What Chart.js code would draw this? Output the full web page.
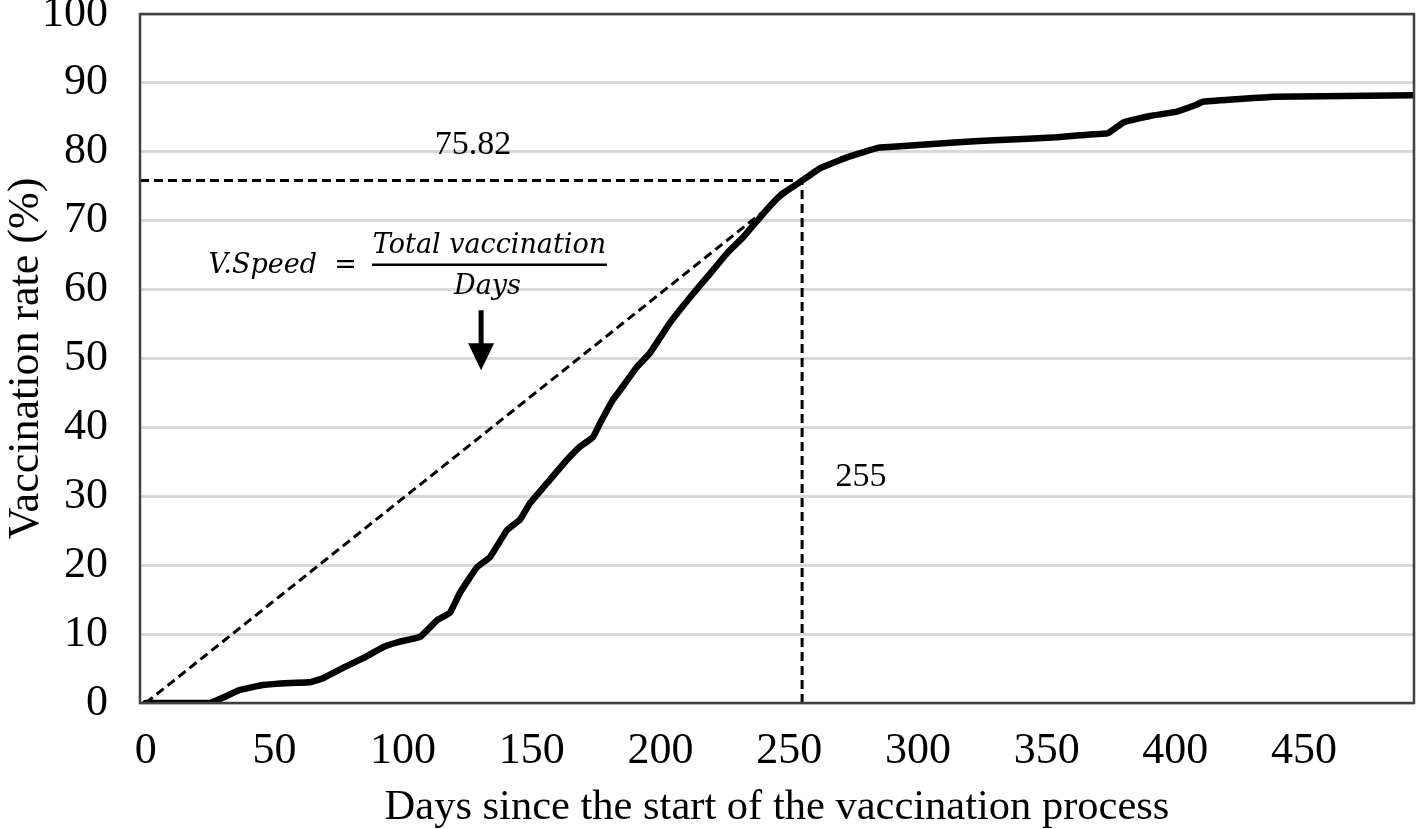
<!DOCTYPE html>
<html>
<head>
<meta charset="utf-8">
<script src="https://cdn.jsdelivr.net/npm/chart.js@4.4.1/dist/chart.umd.min.js"></script>
<style>
  html, body { margin: 0; padding: 0; background: #ffffff; }
  #wrap { width: 1417px; height: 829px; }
</style>
</head>
<body>
<div id="wrap"><canvas id="c" width="1417" height="829"></canvas></div>
<script>
// ---- Data ----
const days = [0, 25.0, 30.8, 36.6, 45.6, 56.1, 63.8, 68.9, 76.7, 84.5, 92.2, 98.8, 106.6, 113.2, 118.2, 122.1,
  128.7, 133.8, 140.4, 145.4, 149.3, 155.9, 163.7, 168.7, 173.8, 176.5, 181.5, 184.3, 190.9, 195.9,
  203.7, 211.5, 218.1, 225.9, 232.1, 238.7, 243.7, 247.6, 254.2, 261.9, 272.4, 284.8, 293.1, 315.6,
  331.9, 354.0, 362.9, 373.8, 380.0, 390.1, 400.2, 407.9, 411.0, 438.7, 492.7];
const rates = [0, 0, 0.9, 1.9, 2.6, 2.9, 3.0, 3.6, 5.1, 6.5, 8.1, 8.9, 9.6, 12.0, 13.1, 16.0,
  19.7, 21.2, 25.1, 26.6, 29.0, 31.9, 35.3, 37.2, 38.6, 40.6, 44.0, 45.4, 48.8, 50.8,
  55.2, 58.9, 61.8, 65.3, 67.6, 70.5, 72.6, 74.0, 75.6, 77.6, 79.2, 80.6, 80.8, 81.4,
  81.7, 82.1, 82.4, 82.7, 84.3, 85.2, 85.8, 86.8, 87.3, 88.0, 88.2];
const refDay = 255;
const refRate = 75.82;
const xTicks = [0, 50, 100, 150, 200, 250, 300, 350, 400, 450];
const yTicks = [0, 10, 20, 30, 40, 50, 60, 70, 80, 90, 100];
const xMin = -2.2, xMax = 492.7;

const mainPoints = days.map((d, i) => ({ x: d, y: rates[i] }));

const annot = {
  id: 'annot',
  afterDatasetsDraw(chart) {
    const { ctx, chartArea: a, scales: { x, y } } = chart;
    ctx.save();
    // frame
    ctx.strokeStyle = '#404040';
    ctx.lineWidth = 2.5;
    ctx.strokeRect(a.left, a.top, a.right - a.left, a.bottom - a.top);
    ctx.fillStyle = '#000';
    ctx.textAlign = 'center';
    ctx.textBaseline = 'middle';
    ctx.font = '34px "Liberation Serif"';
    ctx.fillText(String(refRate), x.getPixelForValue(127.2), y.getPixelForValue(81.0));
    ctx.fillText(String(refDay), x.getPixelForValue(277.9), y.getPixelForValue(32.8));
    // formula
    ctx.font = 'italic 27px "DejaVu Serif"';
    const fl = x.getPixelForValue(87.9), fr = x.getPixelForValue(179.2), fy = y.getPixelForValue(63.6);
    ctx.textAlign = 'right';
    ctx.fillText('V.Speed  =', x.getPixelForValue(82.0), fy + 1);
    ctx.textAlign = 'center';
    ctx.textBaseline = 'alphabetic';
    ctx.fillText('Total vaccination', (fl + fr) / 2, fy - 12);
    ctx.textBaseline = 'top';
    ctx.fillText('Days', (fl + fr) / 2 - 2, fy + 9);
    ctx.lineWidth = 2.5;
    ctx.strokeStyle = '#000';
    ctx.beginPath(); ctx.moveTo(fl, fy); ctx.lineTo(fr, fy); ctx.stroke();
    // arrow
    const ax = x.getPixelForValue(130.3);
    const a0 = y.getPixelForValue(57.0), a1 = y.getPixelForValue(52.2), a2 = y.getPixelForValue(48.3);
    ctx.lineWidth = 5;
    ctx.beginPath(); ctx.moveTo(ax, a0); ctx.lineTo(ax, a1 + 1); ctx.stroke();
    ctx.beginPath(); ctx.moveTo(ax - 13, a1); ctx.lineTo(ax + 13, a1); ctx.lineTo(ax, a2); ctx.closePath(); ctx.fill();
    ctx.restore();
  }
};

new Chart(document.getElementById('c'), {
  type: 'scatter',
  data: {
    datasets: [
      { data: [{ x: 0, y: 0 }, { x: refDay, y: refRate }], showLine: true, borderColor: '#000', borderWidth: 3,
        borderDash: [9, 5], pointRadius: 0, order: 2 },
      { data: [{ x: xMin, y: refRate }, { x: refDay, y: refRate }], showLine: true, borderColor: '#000', borderWidth: 3,
        borderDash: [9, 5], pointRadius: 0, order: 2 },
      { data: [{ x: refDay, y: 0 }, { x: refDay, y: refRate }], showLine: true, borderColor: '#000', borderWidth: 3,
        borderDash: [9, 5], pointRadius: 0, order: 2 },
      { data: mainPoints, showLine: true, borderColor: '#000', borderWidth: 6.5, pointRadius: 0,
        tension: 0.1, borderJoinStyle: 'round', borderCapStyle: 'round', order: 1 }
    ]
  },
  options: {
    responsive: false,
    animation: false,
    layout: { padding: { top: 14, right: 3, left: 0, bottom: 0 } },
    plugins: { legend: { display: false }, tooltip: { enabled: false } },
    scales: {
      x: {
        type: 'linear', min: xMin, max: xMax,
        afterBuildTicks: s => { s.ticks = xTicks.map(v => ({ value: v })); },
        afterFit: s => { s.height = 126; s.paddingLeft = 0; s.paddingRight = 0; },
        grid: { display: false, drawTicks: false },
        border: { display: false },
        ticks: { color: '#000', padding: 22, font: { family: '"Liberation Serif"', size: 44 }, maxRotation: 0 },
        title: { display: true, text: 'Days since the start of the vaccination process', color: '#000',
          font: { family: '"Liberation Serif"', size: 42.5 }, padding: { top: 0, bottom: -4 } }
      },
      y: {
        type: 'linear', min: 0, max: 100,
        afterBuildTicks: s => { s.ticks = yTicks.map(v => ({ value: v })); },
        afterFit: s => { s.width = 140; s.paddingTop = 0; s.paddingBottom = 0; },
        grid: { color: '#d9d9d9', lineWidth: 3, drawTicks: false },
        border: { display: false },
        ticks: { color: '#000', padding: 32, font: { family: '"Liberation Serif"', size: 44 } },
        title: { display: true, text: 'Vaccination rate (%)', color: '#000',
          font: { family: '"Liberation Serif"', size: 44 }, padding: { top: 0, bottom: 0 } }
      }
    }
  },
  plugins: [annot]
});
</script>
</body>
</html>
